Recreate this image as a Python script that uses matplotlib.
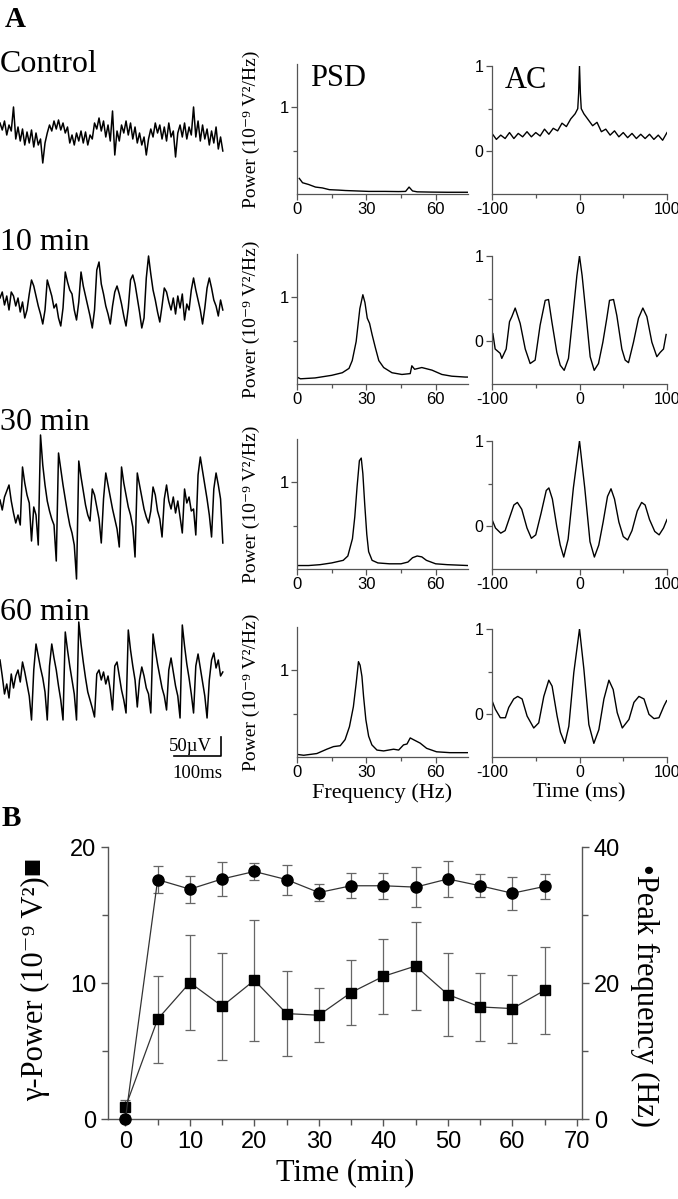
import numpy as np
import matplotlib
matplotlib.use('Agg')
import matplotlib.pyplot as plt

plt.rcParams['font.family'] = ['Liberation Serif', 'DejaVu Serif', 'DejaVu Sans']
plt.rcParams['axes.unicode_minus'] = False

# ---- raw field traces (amplitude offsets, one sample every 4.8 ms) ----
trace_names = ['Control', '10 min', '30 min', '60 min']
ctrl_trace = [12, 5, 14, 0, 10, 4, 28, -4, 8, -6, 6, -10, 3, -8, 5, -12, 2, -10, -4, -28,
              -8, 2, 10, 4, 14, 6, 15, 5, 12, 2, 8, -8, 0, -10, 2, -6, 4, -8, 3, -10,
              0, -4, 12, 6, 17, 4, 14, -2, 10, -6, 24, -20, 4, -6, 10, 2, 14, 0, 12, -4,
              8, -8, 2, -10, -2, -20, -4, 6, -2, 12, 2, 10, -4, 8, -6, 12, -2, 4, -22, 2,
              10, -2, 12, -4, 8, 0, 28, -2, 14, -6, 10, -4, 6, -10, 4, -8, 8, -14, -2, -16]
min10_trace = [2, 8, -5, 4, -10, 8, 4, -6, 2, -12, -2, -18, -10, 6, 20, 14, 4, -6, -14, -24,
               -10, 20, 12, 4, -8, -4, -18, -26, -8, 28, 18, 10, 6, -10, -20, -2, 28, 14, 4, -6,
               -16, -28, -10, 30, 38, 16, 6, -6, -14, -24, -6, 8, 14, 6, -4, -16, -26, -8, 20, 25,
               16, 2, -12, -28, -18, 22, 44, 26, 10, 0, -12, -22, -6, 12, 8, -2, -10, 2, -14, 4,
               -8, 6, -20, -4, -10, 10, 22, 10, 0, -10, -24, -8, 12, 22, 12, 0, -6, -16, 0, -10]
min30_trace = [5, -5, 8, 14, 20, 4, -8, -18, -10, -20, 38, 22, 10, 2, -36, -2, -10, -40, 70, 40,
               20, 4, -6, -14, -20, -56, 52, 36, 20, 6, -8, -20, -28, -40, -74, 44, 28, 14, 0, -10,
               -16, 16, 10, -2, -14, -38, 6, 32, 20, 8, -4, -14, -24, -42, 38, 22, 10, -2, -10, -22,
               -52, 32, 20, 8, -4, -12, -18, -6, 18, 10, -6, -14, -32, 6, 20, 4, -4, 8, -8, 4,
               -12, -28, 16, 2, 8, -6, -4, -30, 30, 48, 34, 20, 6, -10, -32, 16, 32, 20, 6, -38]
min60_trace = [20, 4, -14, -4, -18, 6, -8, 4, 10, -2, 18, 8, -4, -16, -40, 10, 36, 24, 12, 2,
               -12, -40, 14, 36, 22, 10, -6, -20, -40, 48, 30, 14, 0, -14, -40, 58, 36, 18, 2, -12,
               -20, -28, -37, 6, 10, 0, 8, -4, 4, -10, -30, 14, 18, 4, -10, -20, -33, 50, 30, 14,
               0, -27, 0, 13, 4, -8, -14, -33, 46, 30, 16, 4, -8, -16, -30, 10, 22, 8, -6, -16,
               -38, 55, 34, 16, 2, -14, -33, 14, 26, 12, -2, -16, -38, 0, 20, 27, 12, 20, 4, 8]
traces = [ctrl_trace, min10_trace, min30_trace, min60_trace]
uv_per_unit = 50 / 19

# ---- power spectra ----
psd_f_ctrl = [1, 2.4, 5, 8, 11, 14, 18, 21, 26, 31, 38, 44, 47, 48.5, 50, 52, 58, 65, 74]
psd_ctrl = [0.18, 0.13, 0.11, 0.08, 0.07, 0.05, 0.045, 0.04, 0.035, 0.03, 0.03, 0.028, 0.03,
            0.08, 0.035, 0.025, 0.022, 0.02, 0.02]
psd_f_10 = [0, 1.5, 7.8, 15, 19.6, 22.5, 23.9, 25.6, 27.2, 28.5, 29.4, 30.4, 31.4, 32.5, 33.9,
            35.4, 37.5, 41.1, 45.4, 49.0, 49.7, 50.9, 54, 58.4, 62.7, 67, 72.8, 74]
psd_10 = [0.08, 0.06, 0.07, 0.10, 0.13, 0.18, 0.27, 0.49, 0.87, 1.03, 0.94, 0.76, 0.70, 0.57,
          0.42, 0.27, 0.19, 0.13, 0.11, 0.12, 0.21, 0.17, 0.19, 0.16, 0.11, 0.09, 0.08, 0.08]
psd_f_30 = [0, 5, 10, 15, 20, 22, 24, 25, 26, 27, 27.8, 28.5, 29.3, 30.2, 31, 32.5, 35, 40, 45,
            48, 50, 52, 54, 56, 60, 65, 74]
psd_30 = [0.04, 0.04, 0.05, 0.07, 0.10, 0.15, 0.35, 0.6, 0.95, 1.25, 1.28, 1.1, 0.75, 0.4, 0.2,
          0.1, 0.07, 0.06, 0.06, 0.08, 0.13, 0.15, 0.14, 0.10, 0.06, 0.05, 0.04]
psd_f_60 = [0, 2.9, 8.6, 12.9, 15.8, 18.7, 20.8, 22.7, 24.4, 25.6, 26.6, 27.3, 28.1, 28.8, 29.8,
            31, 32.4, 34.6, 37.5, 41.8, 44, 46.1, 47.6, 49, 50.4, 53.3, 56.1, 60.4, 66.2, 74]
psd_60 = [0.03, 0.02, 0.04, 0.09, 0.12, 0.13, 0.20, 0.35, 0.58, 0.85, 1.10, 1.06, 0.93, 0.70,
          0.43, 0.24, 0.14, 0.08, 0.07, 0.09, 0.08, 0.14, 0.15, 0.22, 0.20, 0.16, 0.10, 0.06,
          0.05, 0.05]
psd_f = [psd_f_ctrl, psd_f_10, psd_f_30, psd_f_60]
psd_v = [psd_ctrl, psd_10, psd_30, psd_60]

# ---- autocorrelations ----
ac_t_ctrl = [-100, -95, -90, -85, -80, -75, -70, -65, -60, -55, -50, -45, -40, -35, -30, -25, -20,
             -15, -10, -5, -2, -1, 0, 1, 2, 5, 10, 15, 20, 25, 30, 35, 40, 45, 50, 55, 60, 65,
             70, 75, 80, 85, 90, 95, 100]
ac_ctrl = [0.21, 0.14, 0.19, 0.15, 0.22, 0.15, 0.21, 0.17, 0.23, 0.17, 0.22, 0.18, 0.26, 0.20,
           0.27, 0.24, 0.33, 0.29, 0.38, 0.44, 0.50, 0.68, 1.0, 0.68, 0.50, 0.44, 0.37, 0.30,
           0.34, 0.23, 0.26, 0.19, 0.24, 0.17, 0.22, 0.16, 0.21, 0.15, 0.20, 0.15, 0.20, 0.14,
           0.19, 0.13, 0.22]
ac_t_10 = [-99, -96.4, -90.7, -88.8, -83.8, -80, -77.3, -73.5, -67.8, -62, -56.4, -50.7, -45,
           -39.2, -35.4, -31.6, -25.9, -22, -17.5, -12.6, -7.6, -3, 0, 3, 7.6, 12.2, 16.8, 21.7,
           26.7, 31.2, 34.3, 38.9, 42.7, 48.4, 52.2, 56, 61.7, 67.4, 72.4, 77, 82.7, 88.4, 92.2,
           96, 99]
ac_10 = [0.09, -0.09, -0.14, -0.20, -0.09, 0.23, 0.29, 0.39, 0.21, -0.09, -0.26, -0.22, 0.19,
         0.48, 0.49, 0.23, -0.13, -0.28, -0.34, -0.20, 0.30, 0.77, 1.0, 0.77, 0.30, -0.18,
         -0.34, -0.26, -0.01, 0.27, 0.48, 0.49, 0.30, -0.09, -0.22, -0.25, -0.01, 0.27, 0.39,
         0.29, -0.01, -0.18, -0.13, -0.09, 0.08]
ac_t_30 = [-100, -96, -90, -85, -80, -75, -71, -66, -60, -55, -50, -44, -38, -35, -31, -26, -22,
           -18, -13, -7, 0, 6, 12, 17, 22, 27, 32, 36, 40, 45, 50, 55, 60, 66, 71, 75, 80, 86,
           91, 96, 100]
ac_30 = [0.08, -0.02, -0.08, -0.05, 0.10, 0.25, 0.28, 0.20, -0.02, -0.14, -0.10, 0.15, 0.42,
         0.45, 0.32, 0.0, -0.22, -0.36, -0.15, 0.45, 1.0, 0.45, -0.18, -0.36, -0.22, 0.05, 0.35,
         0.44, 0.32, 0.05, -0.12, -0.16, -0.05, 0.18, 0.28, 0.25, 0.08, -0.06, -0.10, -0.02,
         0.08]
ac_t_60 = [-99.2, -96.2, -90.5, -84.7, -80.9, -75.2, -70.6, -65.6, -59.9, -52.3, -46.6, -40.8,
           -35.1, -31.3, -25.6, -21.8, -16.8, -12.2, -6.5, 0, 5, 10.7, 16.4, 22.1, 27.9, 33.6,
           38.5, 43.1, 48.9, 56.5, 62.2, 67.9, 73.7, 79.4, 85.1, 90.8, 96.6, 99.6]
ac_60 = [0.14, 0.06, -0.04, -0.04, 0.08, 0.18, 0.21, 0.18, -0.02, -0.16, -0.10, 0.21, 0.40,
         0.33, -0.02, -0.21, -0.34, -0.14, 0.49, 1.0, 0.53, -0.12, -0.34, -0.18, 0.18, 0.40,
         0.29, 0.02, -0.16, -0.06, 0.14, 0.21, 0.18, 0.0, -0.05, -0.04, 0.10, 0.16]
ac_t = [ac_t_ctrl, ac_t_10, ac_t_30, ac_t_60]
ac_v = [ac_ctrl, ac_10, ac_30, ac_60]

# ---- panel B ----
time_min = [0, 5, 10, 15, 20, 25, 30, 35, 40, 45, 50, 55, 60, 65]
gamma_power = [0.86, 7.34, 10.03, 8.29, 10.2, 7.75, 7.63, 9.3, 10.49, 11.25, 9.15, 8.24, 8.12, 9.46]
gamma_err = [0.55, 3.2, 3.5, 3.95, 4.45, 3.1, 2.0, 2.4, 2.75, 3.2, 3.05, 2.5, 2.5, 3.2]
peak_freq = [0, 35.2, 33.8, 35.3, 36.4, 35.2, 33.3, 34.3, 34.3, 34.1, 35.3, 34.3, 33.2, 34.2]
peak_err = [0, 2.0, 2.0, 2.5, 1.3, 2.2, 1.3, 1.85, 1.9, 2.9, 2.6, 1.7, 2.4, 1.85]

W, H = 678, 1199
fig = plt.figure(figsize=(W / 100, H / 100), dpi=100)


def box(left, top, width, height):
    return [left / W, 1 - (top + height) / H, width / W, height / H]


AX_GRAY = '#555555'


def style_axis(ax, size):
    for s in ['top', 'right']:
        ax.spines[s].set_visible(False)
    for s in ['left', 'bottom']:
        ax.spines[s].set_color(AX_GRAY)
        ax.spines[s].set_linewidth(0.9)
    ax.tick_params(which='both', direction='out', color=AX_GRAY, width=0.9,
                   labelsize=size, labelfontfamily='Liberation Sans', pad=2)
    ax.tick_params(which='major', length=4)
    ax.tick_params(which='minor', length=3)


fig.text(5 / W, 1 - 27 / H, 'A', fontsize=21, fontweight='bold')
fig.text(2 / W, 1 - 826 / H, 'B', fontsize=21, fontweight='bold')

label_base = [72, 250, 430, 620]
trace_center = [135, 300, 505, 680]
row_bottom = [194, 384, 569, 757]

for i in range(4):
    fig.text(0, 1 - label_base[i] / H, trace_names[i], fontsize=23, va='baseline')

    # trace
    ax = fig.add_axes(box(0, trace_center[i] - 85, 226, 170))
    ax.patch.set_visible(False)
    ax.axis('off')
    vals = np.array(traces[i]) * uv_per_unit
    t = np.arange(len(vals)) * 4.8
    ax.plot(t, vals, color='k', lw=1.1)
    ax.set_xlim(0, 482)
    ax.set_ylim(-85 * uv_per_unit, 85 * uv_per_unit)
    if i == 3:
        ax.plot([371, 471, 471], [-200, -200, -150], color='k', lw=1.2, clip_on=False)
        ax.text(452, -176, '50µV', ha='right', va='center', fontsize=13.5)
        ax.text(421, -245, '100ms', ha='center', va='center', fontsize=13.5, clip_on=False)

    # PSD
    ax = fig.add_axes(box(297, row_bottom[i] - 130, 171, 130))
    ax.plot(psd_f[i], psd_v[i], color='k', lw=1.0)
    ax.set_xlim(0, 74)
    ax.set_ylim(0, 1.5)
    ax.set_xticks([0, 30, 60])
    ax.set_xticks([15, 45], minor=True)
    ax.set_yticks([1])
    ax.set_yticks([0.5], minor=True)
    style_axis(ax, 12)
    ax.set_ylabel('Power (10⁻⁹ V²/Hz)', fontsize=14)
    ax.yaxis.set_label_coords(-0.215, 0.5)
    if i == 0:
        ax.text(13 / 171, 1 - 22 / 130, 'PSD', transform=ax.transAxes, fontsize=22,
                va='baseline')
    if i == 3:
        ax.set_xlabel('Frequency (Hz)', fontsize=16, labelpad=2)

    # autocorrelation
    ax = fig.add_axes(box(492, row_bottom[i] - 128, 175, 128))
    ax.plot(ac_t[i], ac_v[i], color='k', lw=1.0)
    ax.set_xlim(-100, 100)
    ax.set_ylim(-0.5, 1)
    ax.set_xticks([-100, 0, 100])
    ax.set_xticks([-50, 50], minor=True)
    ax.set_yticks([0, 1])
    ax.set_yticks([0.5], minor=True)
    style_axis(ax, 11.5)
    if i == 0:
        ax.text(13 / 175, 1 - 22 / 128, 'AC', transform=ax.transAxes, fontsize=22,
                va='baseline')
    if i == 3:
        ax.set_xlabel('Time (ms)', fontsize=16, labelpad=2)

# ---- panel B ----
axb = fig.add_axes(box(108, 847, 474, 272))
axb2 = axb.twinx()
axb.errorbar(time_min, gamma_power, yerr=gamma_err, fmt='s-', color='#333333', mfc='k',
             mec='k', ms=7.5, lw=0.9, ecolor='#666666', elinewidth=0.9, capsize=3.5,
             capthick=0.9, clip_on=False, zorder=3)
axb2.errorbar(time_min, peak_freq, yerr=peak_err, fmt='o-', color='#333333', mfc='k',
              mec='k', ms=8, lw=0.9, ecolor='#666666', elinewidth=0.9, capsize=3.5,
              capthick=0.9, clip_on=False, zorder=3)
axb.set_xlim(-2.7, 70.8)
axb.set_ylim(0, 20)
axb2.set_ylim(0, 40)
axb.set_xticks(range(0, 71, 10))
axb.set_xticks(range(5, 66, 10), minor=True)
axb.set_yticks([0, 10, 20])
axb.set_yticks([5, 15], minor=True)
axb2.set_yticks([0, 20, 40])
axb2.set_yticks([10, 30], minor=True)
for a in [axb, axb2]:
    a.spines['top'].set_visible(False)
    for s in ['left', 'bottom', 'right']:
        a.spines[s].set_color(AX_GRAY)
        a.spines[s].set_linewidth(1.0)
    a.tick_params(which='both', direction='out', color=AX_GRAY, width=1.0,
                  labelsize=17, labelfontfamily='Liberation Sans')
    a.tick_params(which='major', length=5)
    a.tick_params(which='minor', length=4)
axb.spines['right'].set_visible(False)
axb2.spines['left'].set_visible(False)
axb2.spines['bottom'].set_visible(False)
fig.text(36 / W, 1 - 979 / H, 'γ-Power (10⁻⁹ V²)■', fontsize=22, rotation=90,
         ha='center', va='center')
fig.text(645 / W, 1 - 996 / H, '•Peak frequency (Hz)', fontsize=22, rotation=270,
         ha='center', va='center')
axb.set_xlabel('Time (min)', fontsize=22, labelpad=4)

fig.savefig('out.png', dpi=100)
